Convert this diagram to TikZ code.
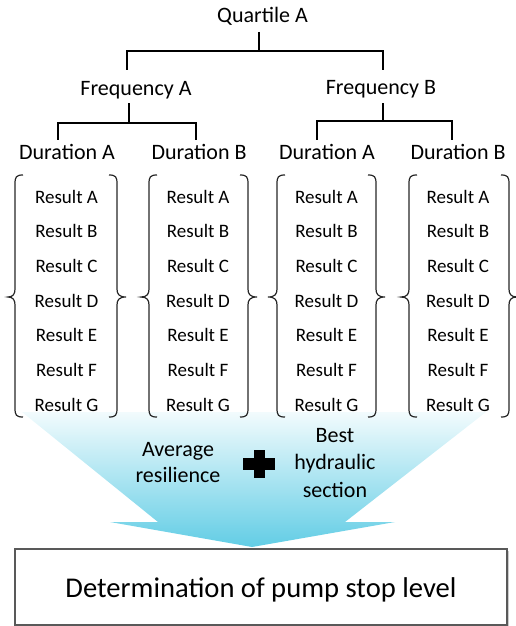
\documentclass[tikz,border=0pt]{standalone}
\usepackage{fontspec}
\setmainfont{Carlito}
\definecolor{fTop}{RGB}{242,251,253}
\definecolor{fMid}{RGB}{175,229,242}
\definecolor{fBot}{RGB}{98,205,229}
\begin{document}
\begin{tikzpicture}[x=1pt,y=-1pt,
  tree/.style={line width=1.8pt, line join=miter},
  lbl/.style={font=\fontsize{22}{26}\selectfont, anchor=base, inner sep=0pt},
  res/.style={font=\fontsize{19}{22}\selectfont, anchor=base, inner sep=0pt},
  brc/.style={line width=1.2pt, draw=black!85}]
\useasboundingbox (0,0) rectangle (515,626);
% funnel arrow
\shade[top color=fTop, middle color=fMid, bottom color=fBot]
  (22,412) -- (486,412) -- (345,522) -- (395,522) -- (252,547) -- (110,522) -- (158,522) -- cycle;
% tree labels
\node[lbl] (Q) at (262.5,23) {Quartile A};
\node[lbl] (FA) at (136,95) {Frequency A};
\node[lbl] (FB) at (381,94) {Frequency B};
\node[lbl] (DA1) at (67,159) {Duration A};
\node[lbl] (DB1) at (199,159) {Duration B};
\node[lbl] (DA2) at (327,159) {Duration A};
\node[lbl] (DB2) at (458,159) {Duration B};
% connector end points
\coordinate (Qb) at (259,32);
\coordinate (FAt) at (127,70);
\coordinate (FBt) at (383,70);
\coordinate (FAb) at (129,103);
\coordinate (FBb) at (383,103);
\coordinate (DA1t) at (58,140);
\coordinate (DB1t) at (196,140);
\coordinate (DA2t) at (317,140);
\coordinate (DB2t) at (452,140);
\draw[tree] (Qb) -- ++(0,19) -| (FAt);
\draw[tree] (Qb) ++(0,19) -| (FBt);
\draw[tree] (FAb) -- ++(0,20) -| (DA1t);
\draw[tree] (FAb) ++(0,20) -| (DB1t);
\draw[tree] (FBb) -- ++(0,18) -| (DA2t);
\draw[tree] (FBb) ++(0,18) -| (DB2t);
% braces
\foreach \v/\t in {15/8, 149/141, 277/268, 409/401} {
  \draw[brc] ({\v+8},175) .. controls ({\v+1},175) and (\v,177) .. (\v,184) -- (\v,289)
    .. controls (\v,294) and ({\v-2},297) .. (\t,297)
    .. controls ({\v-2},297) and (\v,300) .. (\v,305) -- (\v,408)
    .. controls (\v,415) and ({\v+1},417) .. ({\v+8},417);
}
\foreach \v/\t in {117/126, 248/257, 376/385, 509/517} {
  \draw[brc] ({\v-8},175) .. controls ({\v-1},175) and (\v,177) .. (\v,184) -- (\v,289)
    .. controls (\v,294) and ({\v+2},297) .. (\t,297)
    .. controls ({\v+2},297) and (\v,300) .. (\v,305) -- (\v,408)
    .. controls (\v,415) and ({\v-1},417) .. ({\v-8},417);
}
% results
\foreach \g/\cx in {1/66.5, 2/198, 3/326.5, 4/458} {
  \foreach \r [count=\i from 0] in {A,B,C,D,E,F,G} {
    \node[res] (r\g\r) at (\cx,{203+34.67*\i}) {Result \r};
  }
}
% funnel texts
\node[font=\fontsize{22}{26}\selectfont, align=center, inner sep=0pt] (avg) at (178,463) {Average\\resilience};
\node[font=\fontsize{22}{27.5}\selectfont, align=center, inner sep=0pt] (best) at (335,463) {Best\\hydraulic\\section};
\fill (243,458) rectangle (275,470);
\fill (253.5,450) rectangle (264.5,478);
% bottom box
\fill[black!20] (17,551) rectangle (509,628);
\node[draw=black!65, line width=1.3pt, fill=white, minimum width=492pt, minimum height=76pt,
  text height=22pt, text depth=2pt, font=\fontsize{28.6}{32}\selectfont] (det) at (261,587) {Determination of pump stop level};
\end{tikzpicture}
\end{document}
